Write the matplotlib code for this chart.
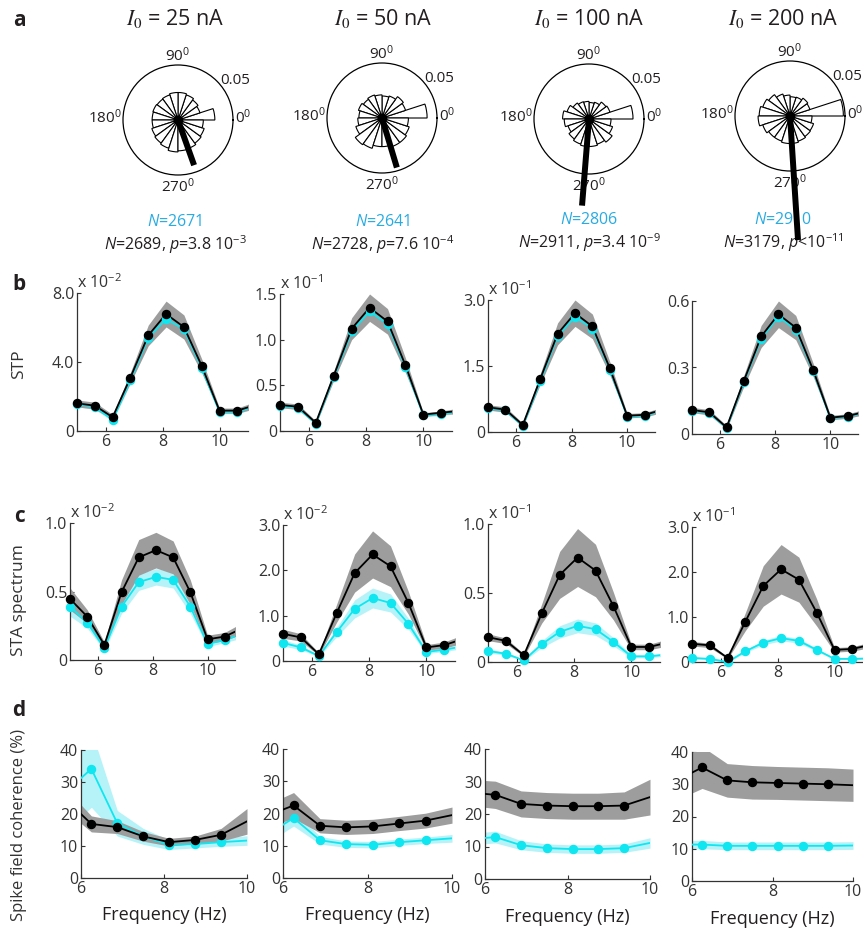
import numpy as np
import matplotlib
matplotlib.use("Agg")
import matplotlib.pyplot as plt

plt.rcParams['font.family'] = ['Open Sans', 'DejaVu Sans']
plt.rcParams['mathtext.fontset'] = 'custom'
plt.rcParams['mathtext.rm'] = 'Open Sans'
plt.rcParams['mathtext.it'] = 'Open Sans:italic'
plt.rcParams['mathtext.bf'] = 'Open Sans:bold'

# ---------------- data ----------------
currents = [25, 50, 100, 200]
n_sub = [2671, 2641, 2806, 2910]
n_all = [2689, 2728, 2911, 3179]
p_text = [r"=3.8 10$^{-3}$", r"=7.6 10$^{-4}$", r"=3.4 10$^{-9}$", r"<10$^{-11}$"]

# phase histograms (20 bins of 18 deg, starting at 0 deg)
rose_25 = [0.0335, 0.021, 0.0225, 0.024, 0.025, 0.025, 0.024, 0.0235, 0.024, 0.0235,
           0.0235, 0.025, 0.026, 0.027, 0.029, 0.028, 0.0275, 0.026, 0.025, 0.023]
rose_50 = [0.041, 0.0225, 0.024, 0.021, 0.020, 0.021, 0.022, 0.021, 0.0225, 0.021,
           0.022, 0.025, 0.030, 0.029, 0.026, 0.026, 0.0275, 0.0275, 0.026, 0.024]
rose_100 = [0.040, 0.020, 0.019, 0.016, 0.015, 0.016, 0.0165, 0.018, 0.021, 0.024,
            0.0225, 0.020, 0.0225, 0.024, 0.025, 0.025, 0.024, 0.026, 0.0225, 0.020]
rose_200 = [0.0485, 0.019, 0.020, 0.018, 0.0175, 0.019, 0.021, 0.024, 0.026, 0.028,
            0.029, 0.026, 0.024, 0.024, 0.025, 0.025, 0.024, 0.023, 0.0225, 0.020]
roses = [rose_25, rose_50, rose_100, rose_200]
mean_angle_deg = [289.6, 286.7, 265.4, 273.7]
mean_length = [0.0436, 0.047, 0.079, 0.113]

# frequency axes
freq_bc = [5.0, 5.625, 6.25, 6.875, 7.5, 8.125, 8.75, 9.375, 10.0, 10.625, 11.25]
freq_d = [5.625, 6.25, 6.875, 7.5, 8.125, 8.75, 9.375, 10.0]

# STP (row b)
stp_all = [
    [1.6, 1.47, 0.8, 3.1, 5.54, 6.78, 6.03, 3.78, 1.18, 1.18, 1.5],
    [0.285, 0.266, 0.09, 0.606, 1.12, 1.35, 1.20, 0.72, 0.18, 0.20, 0.22],
    [0.56, 0.51, 0.16, 1.2, 2.23, 2.7, 2.4, 1.45, 0.37, 0.39, 0.5],
    [0.108, 0.098, 0.03, 0.24, 0.44, 0.54, 0.48, 0.29, 0.074, 0.081, 0.1],
]
stp_all_err = [
    [0.2, 0.2, 0.15, 0.3, 0.6, 0.75, 0.7, 0.4, 0.15, 0.15, 0.2],
    [0.03, 0.03, 0.02, 0.05, 0.12, 0.15, 0.14, 0.08, 0.02, 0.02, 0.03],
    [0.06, 0.06, 0.04, 0.12, 0.25, 0.3, 0.28, 0.15, 0.05, 0.05, 0.06],
    [0.012, 0.012, 0.008, 0.025, 0.05, 0.06, 0.055, 0.03, 0.01, 0.01, 0.012],
]
stp_sub = [
    [1.55, 1.4, 0.65, 2.95, 5.4, 6.5, 5.9, 3.65, 1.1, 1.1, 1.45],
    [0.275, 0.255, 0.08, 0.59, 1.09, 1.31, 1.17, 0.70, 0.17, 0.19, 0.21],
    [0.54, 0.49, 0.14, 1.15, 2.18, 2.62, 2.35, 1.42, 0.35, 0.37, 0.48],
    [0.105, 0.095, 0.027, 0.235, 0.43, 0.53, 0.47, 0.285, 0.071, 0.078, 0.098],
]
stp_sub_err = [
    [0.15, 0.15, 0.1, 0.2, 0.3, 0.35, 0.3, 0.2, 0.1, 0.1, 0.15],
    [0.02, 0.02, 0.01, 0.03, 0.06, 0.07, 0.06, 0.04, 0.02, 0.02, 0.02],
    [0.04, 0.04, 0.03, 0.06, 0.12, 0.14, 0.12, 0.08, 0.03, 0.03, 0.04],
    [0.008, 0.008, 0.005, 0.015, 0.025, 0.03, 0.028, 0.018, 0.007, 0.007, 0.008],
]

# STA spectrum (row c)
sta_all = [
    [0.446, 0.317, 0.11, 0.495, 0.749, 0.802, 0.749, 0.495, 0.151, 0.171, 0.23],
    [0.60, 0.52, 0.15, 1.06, 1.94, 2.35, 2.09, 1.28, 0.30, 0.35, 0.48],
    [0.18, 0.153, 0.049, 0.352, 0.631, 0.757, 0.663, 0.405, 0.109, 0.109, 0.14],
    [0.405, 0.37, 0.09, 0.9, 1.69, 2.06, 1.83, 1.1, 0.27, 0.29, 0.38],
]
sta_all_err = [
    [0.08, 0.05, 0.02, 0.09, 0.13, 0.13, 0.12, 0.09, 0.03, 0.03, 0.04],
    [0.1, 0.08, 0.03, 0.2, 0.42, 0.52, 0.45, 0.25, 0.06, 0.07, 0.09],
    [0.025, 0.02, 0.01, 0.07, 0.17, 0.21, 0.19, 0.1, 0.02, 0.02, 0.025],
    [0.05, 0.05, 0.02, 0.2, 0.45, 0.55, 0.5, 0.3, 0.05, 0.05, 0.06],
]
sta_sub = [
    [0.39, 0.273, 0.085, 0.39, 0.568, 0.607, 0.585, 0.39, 0.117, 0.146, 0.19],
    [0.40, 0.30, 0.11, 0.64, 1.15, 1.39, 1.28, 0.82, 0.20, 0.25, 0.32],
    [0.08, 0.06, 0.012, 0.129, 0.218, 0.262, 0.238, 0.146, 0.041, 0.041, 0.055],
    [0.09, 0.07, 0.0, 0.24, 0.43, 0.53, 0.47, 0.27, 0.07, 0.07, 0.08],
]
sta_sub_err = [
    [0.07, 0.04, 0.015, 0.05, 0.06, 0.06, 0.06, 0.05, 0.02, 0.02, 0.03],
    [0.07, 0.05, 0.02, 0.1, 0.2, 0.22, 0.2, 0.12, 0.04, 0.04, 0.05],
    [0.015, 0.01, 0.005, 0.025, 0.045, 0.05, 0.045, 0.03, 0.01, 0.01, 0.012],
    [0.02, 0.02, 0.01, 0.03, 0.05, 0.06, 0.05, 0.03, 0.015, 0.015, 0.02],
]

# spike field coherence in % (row d)
sfc_all = [
    [24.6, 16.9, 15.9, 13.0, 11.2, 11.9, 13.5, 17.7],
    [19.3, 22.5, 16.2, 15.7, 16.0, 16.9, 17.8, 19.5],
    [26.6, 25.9, 23.1, 22.6, 22.4, 22.4, 22.6, 25.2],
    [31.2, 35.2, 31.2, 30.6, 30.4, 30.2, 30.0, 29.7],
]
sfc_all_err = [
    [3.5, 2.5, 2.0, 1.5, 1.2, 1.2, 2.0, 4.0],
    [3.5, 4.0, 2.2, 2.2, 2.2, 2.2, 2.3, 2.5],
    [4.0, 4.2, 4.0, 4.0, 4.0, 4.0, 4.2, 5.5],
    [6.0, 6.5, 5.2, 5.2, 5.1, 5.1, 5.1, 5.0],
]
sfc_sub = [
    [26.85, 34.1, 17.1, 13.0, 10.4, 10.6, 11.2, 11.7],
    [13.4, 18.6, 11.7, 10.5, 10.3, 11.1, 11.7, 12.3],
    [12.2, 12.9, 10.4, 9.5, 9.2, 9.2, 9.5, 11.1],
    [11.3, 11.3, 10.9, 10.9, 10.9, 10.9, 10.9, 11.0],
]
sfc_sub_err = [
    [12.0, 12.0, 4.0, 2.5, 1.5, 1.2, 1.3, 1.5],
    [2.5, 2.5, 1.2, 1.0, 1.0, 1.0, 1.0, 1.2],
    [1.8, 1.8, 1.4, 1.3, 1.3, 1.3, 1.3, 1.6],
    [1.3, 1.3, 1.2, 1.2, 1.2, 1.2, 1.2, 1.2],
]

stp_ylim = [8.0, 1.5, 3.0, 0.6]
stp_ticks = [[0, 4, 8], [0, 0.5, 1.0, 1.5], [0, 1.5, 3.0], [0, 0.3, 0.6]]
stp_ticklabels = [["0", "4.0", "8.0"], ["0", "0.5", "1.0", "1.5"],
                  ["0", "1.5", "3.0"], ["0", "0.3", "0.6"]]
stp_scale = [r"x 10$^{-2}$", r"x 10$^{-1}$", r"x 10$^{-1}$", None]

sta_ylim = [1.0, 3.0, 1.0, 3.0]
sta_ticks = [[0, 0.5, 1.0], [0, 1, 2, 3], [0, 0.5, 1.0], [0, 1, 2, 3]]
sta_ticklabels = [["0", "0.5", "1.0"], ["0", "1.0", "2.0", "3.0"],
                  ["0", "0.5", "1.0"], ["0", "1.0", "2.0", "3.0"]]
sta_scale = [r"x 10$^{-2}$", r"x 10$^{-2}$", r"x 10$^{-1}$", r"x 10$^{-1}$"]

# ---------------- layout (pixel boxes: left, top, right, bottom) ----------------
W, H = 863, 931
polar_centers = [(178, 120), (382, 118), (589, 119), (790, 116)]
polar_r = 55
boxes_b = [(77, 293, 248, 431), (280, 294, 452, 431), (488, 300, 655, 432), (692, 301, 858, 434)]
boxes_c = [(70, 523, 235, 660), (283, 525, 455, 661), (488, 524, 660, 662), (692, 527, 863, 662)]
boxes_d = [(81, 750, 247, 878), (283, 749, 452, 878), (485, 749, 650, 879), (692, 752, 853, 881)]

BLACK_TXT = '#231f20'
AX_COL = '#333333'
CYAN = '#10e6f0'
CYAN_BAND = '#b6f3f8'
GRAY_BAND = '#9d9d9d'
CYAN_TXT = '#29abe2'
TICK_FS = 11.5


def box(l, t, r, b):
    return [l / W, 1 - b / H, (r - l) / W, (b - t) / H]


fig = plt.figure(figsize=(W / 100, H / 100), dpi=100)

# ---------------- row a: phase roses ----------------
for i in range(4):
    cx, cy = polar_centers[i]
    r = polar_r
    ax = fig.add_axes(box(cx - r, cy - r, cx + r, cy + r), projection='polar', zorder=5)
    theta = np.deg2rad(np.arange(len(roses[i])) * 18 + 9)
    ax.bar(theta, roses[i], width=np.deg2rad(18), bottom=0, color='white',
           edgecolor='black', linewidth=0.8, align='center')
    ax.set_ylim(0, 0.05)
    ax.grid(False)
    ax.set_xticks([])
    ax.set_yticks([])
    ax.spines['polar'].set_linewidth(0.9)
    ang = np.deg2rad(mean_angle_deg[i])
    ax.plot([ang, ang], [0, mean_length[i]], color='black', lw=4.3,
            solid_capstyle='butt', clip_on=False, zorder=6)
    ax.plot([0], [0], 'o', color='black', ms=6, zorder=7)
    kw = dict(transform=ax.transAxes, fontsize=11, color=BLACK_TXT)
    ax.text(0.5, 1.0, r"90$^{0}$", ha='center', va='bottom', **kw)
    ax.text(1.02, 0.86, "0.05", ha='center', va='center', **kw)
    ax.text(-0.01, 0.52, r"180$^{0}$", ha='right', va='center', **kw)
    ax.text(1.02, 0.52, r"0$^{0}$", ha='left', va='center', **kw)
    ax.text(0.5, -0.02, r"270$^{0}$", ha='center', va='top', **kw)

title_x = [175, 383, 589, 783]
for i in range(4):
    fig.text(title_x[i] / W, 1 - 19 / H, r"$I_{\mathit{0}}$" + f" = {currents[i]} nA",
             ha='center', va='center', fontsize=15.5, color=BLACK_TXT,
             math_fontfamily='stix')
    ytop = 222 if i < 2 else 220
    fig.text(title_x[i] / W, 1 - ytop / H, r"$N$" + f"={n_sub[i]}",
             ha='center', va='center', fontsize=11.5, color=CYAN_TXT)
    fig.text(title_x[i] / W, 1 - (ytop + 23) / H,
             r"$N$" + f"={n_all[i]}, " + r"$p$" + p_text[i],
             ha='center', va='center', fontsize=11.5, color=BLACK_TXT)


def style_axes(ax):
    for s in ['top', 'right']:
        ax.spines[s].set_visible(False)
    for s in ['left', 'bottom']:
        ax.spines[s].set_color(AX_COL)
        ax.spines[s].set_linewidth(0.9)
    ax.tick_params(direction='in', length=3, width=0.8, labelsize=TICK_FS,
                   colors=AX_COL, pad=2)


def draw_series(ax, x, yb, eb, yc, ec, marks):
    x = np.asarray(x)
    yb, eb, yc, ec = map(np.asarray, (yb, eb, yc, ec))
    ax.fill_between(x, yc - ec, yc + ec, color=CYAN_BAND, lw=0, zorder=1)
    ax.fill_between(x, yb - eb, yb + eb, color=GRAY_BAND, lw=0, zorder=2)
    ax.plot(x, yc, color=CYAN, lw=1.3, zorder=3)
    ax.plot(x, yb, color='black', lw=1.3, zorder=4)
    ax.plot(x[marks], yc[marks], 'o', color=CYAN, ms=5.8, zorder=5, clip_on=False)
    ax.plot(x[marks], yb[marks], 'o', color='black', ms=5.8, zorder=6, clip_on=False)


marks_bc = list(range(10))
marks_d = list(range(1, 7))

# ---------------- rows b and c ----------------
for i in range(4):
    ax = fig.add_axes(box(*boxes_b[i]))
    draw_series(ax, freq_bc, stp_all[i], stp_all_err[i], stp_sub[i], stp_sub_err[i], marks_bc)
    ax.set_xlim(5, 11)
    ax.set_ylim(0, stp_ylim[i])
    ax.set_xticks([6, 8, 10])
    ax.set_yticks(stp_ticks[i])
    ax.set_yticklabels(stp_ticklabels[i])
    style_axes(ax)
    if stp_scale[i]:
        ax.text(0.0, 1.01, stp_scale[i], transform=ax.transAxes, ha='left', va='bottom',
                fontsize=TICK_FS, color=AX_COL)

    ax = fig.add_axes(box(*boxes_c[i]))
    draw_series(ax, freq_bc, sta_all[i], sta_all_err[i], sta_sub[i], sta_sub_err[i], marks_bc)
    ax.set_xlim(5, 11)
    ax.set_ylim(0, sta_ylim[i])
    ax.set_xticks([6, 8, 10])
    ax.set_yticks(sta_ticks[i])
    ax.set_yticklabels(sta_ticklabels[i])
    style_axes(ax)
    ax.text(0.0, 1.01, sta_scale[i], transform=ax.transAxes, ha='left', va='bottom',
            fontsize=TICK_FS, color=AX_COL)

# ---------------- row d ----------------
for i in range(4):
    ax = fig.add_axes(box(*boxes_d[i]))
    draw_series(ax, freq_d, sfc_all[i], sfc_all_err[i], sfc_sub[i], sfc_sub_err[i], marks_d)
    ax.set_xlim(6, 10)
    ax.set_ylim(0, 40)
    ax.set_xticks([6, 8, 10])
    ax.set_yticks([0, 10, 20, 30, 40])
    style_axes(ax)
    ax.set_xlabel("Frequency (Hz)", fontsize=13, color=BLACK_TXT, labelpad=7)

# ---------------- labels ----------------
for lab, y in zip("abcd", [20, 285, 516, 710]):
    fig.text(19 / W, 1 - y / H, lab, fontsize=15, fontweight='bold',
             ha='center', va='center', color=BLACK_TXT)

fig.text(19 / W, 1 - 364 / H, "STP", rotation=90, ha='center', va='center',
         fontsize=12.5, color=AX_COL)
fig.text(19 / W, 1 - 600 / H, "STA spectrum", rotation=90, ha='center', va='center',
         fontsize=12.5, color=AX_COL)
fig.text(19 / W, 1 - 825 / H, "Spike field coherence (%)", rotation=90, ha='center',
         va='center', fontsize=12, color=AX_COL)

fig.savefig("out.png", dpi=100)
